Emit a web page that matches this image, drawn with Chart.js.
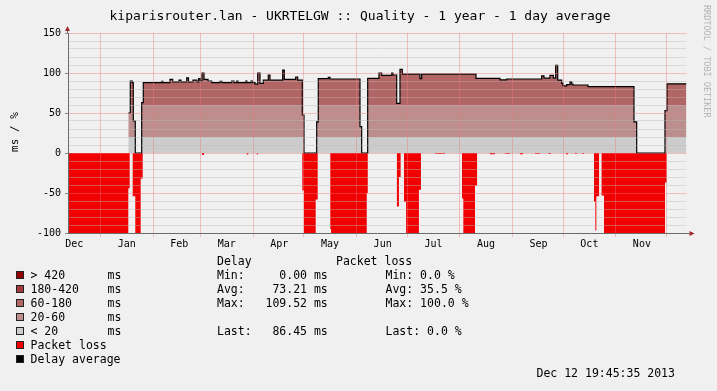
<!DOCTYPE html>
<html>
<head>
<meta charset="utf-8">
<title>kiparisrouter.lan - UKRTELGW :: Quality</title>
<script src="https://cdn.jsdelivr.net/npm/chart.js"></script>
<style>
  body { margin: 0; background: #f0f0f0; font-family: "DejaVu Sans Mono", monospace; }
  #wrap { position: relative; width: 717px; height: 391px; overflow: hidden; }
  #chartQuality { position: absolute; left: 0; top: 0; }
  .t { position: absolute; white-space: pre; font-size: 11.5px; line-height: 14px; color: #000; }
  .sw { position: absolute; width: 6px; height: 6px; border: 1px solid #222; }
</style>
</head>
<body>
<div id="wrap">
  <canvas id="chartQuality" width="717" height="391"></canvas>
  <div class="t" style="left:0;top:7px;width:720px;text-align:center;font-size:13px;line-height:18px;">kiparisrouter.lan - UKRTELGW :: Quality - 1 year - 1 day average</div>
  <div class="t" style="left:15px;top:132px;font-size:11px;transform:translate(-50%,-50%) rotate(-90deg);">ms / %</div>
  <div class="t" style="left:702px;top:5px;font-size:8.5px;line-height:9px;color:#b4b4b4;writing-mode:vertical-rl;">RRDTOOL / TOBI OETIKER</div>
  <div id="legend"></div>
  <div class="t" style="left:217px;top:254px;">Delay</div>
  <div class="t" style="left:336px;top:254px;">Packet loss</div>
  <div class="t" style="left:217px;top:268px;">Min:     0.00 ms</div>
  <div class="t" style="left:385.5px;top:268px;">Min: 0.0 %</div>
  <div class="t" style="left:217px;top:282px;">Avg:    73.21 ms</div>
  <div class="t" style="left:385.5px;top:282px;">Avg: 35.5 %</div>
  <div class="t" style="left:217px;top:296px;">Max:   109.52 ms</div>
  <div class="t" style="left:385.5px;top:296px;">Max: 100.0 %</div>
  <div class="t" style="left:217px;top:324px;">Last:   86.45 ms</div>
  <div class="t" style="left:385.5px;top:324px;">Last: 0.0 %</div>
  <div class="t" style="left:536.5px;top:366px;">Dec 12 19:45:35 2013</div>
</div>
<script>
// ---- x axis: days since Dec 12 2012 19:45 ----
const monthLabels = ['Dec', 'Jan', 'Feb', 'Mar', 'Apr', 'May', 'Jun', 'Jul', 'Aug', 'Sep', 'Oct', 'Nov'];
const monthLabelDays = [3.68, 34.68, 65.68, 93.68, 124.68, 154.68, 185.68, 215.68, 246.68, 277.68, 307.68, 338.68];
const monthStartDays = [19.18, 50.18, 78.18, 109.18, 139.18, 170.18, 200.18, 231.18, 262.18, 292.18, 323.18, 353.18];

// ---- delay average (ms) ----
const delayDays = [35.58, 36.76, 37.94, 38.53, 39.71, 43.49, 44.44, 55.29, 56.06, 60.19, 61.78, 65.50, 66.68,
  70.05, 71.11, 73.76, 76.12, 77.13, 78.07, 79.08, 80.26, 82.62, 84.80, 89.70, 90.88, 96.60, 97.96, 99.55,
  100.32, 104.86, 105.63, 107.99, 108.88, 110.35, 111.95, 113.30, 115.25, 118.20, 119.20, 126.70, 127.64,
  134.37, 135.55, 138.26, 139.27, 146.76, 147.70, 153.60, 154.61, 172.31, 173.31, 176.86, 183.52, 185.12,
  191.02, 191.78, 193.97, 195.92, 197.27, 207.72, 208.72, 240.77, 254.93, 258.88, 279.54, 280.89, 284.43,
  286.38, 287.80, 288.98, 291.34, 292.11, 294.29, 296.24, 297.24, 298.01, 306.86, 334.00, 335.60, 352.30,
  353.48, 364.10, 365];
const delayMs = [50, 90, 88, 40, 0, 63, 88, 89.5, 88, 92, 89, 91, 89,
  94, 89, 91, 89, 93, 90, 100, 92, 90, 88, 89.5, 88, 90, 88, 90,
  88, 90, 88, 90, 88, 86, 100, 87, 91, 97.5, 91, 103.7, 92,
  95, 91, 47.5, 0, 39, 93, 94.5, 92.5, 33, 0, 93.3, 100, 97,
  100, 97.5, 62, 104.6, 98.5, 93, 98.5, 93.3, 91.5, 92.5, 96.5, 93.5, 97,
  93.5, 109.5, 91, 87, 84, 85.5, 89, 86, 85, 83, 39, 0, 53,
  86.5, 86.45, 86.45];

// ---- packet loss (%) ----
const lossDays = [0, 35.58, 36.40, 38.18, 39.71, 42.90, 44.08, 79.08, 80.26, 105.5, 106.4, 111.4, 112.0,
  138.26, 139.27, 146.17, 147.35, 154.8, 155.2, 176.3, 176.9, 194.1, 195.3, 196.3, 198.3, 199.5, 207.1,
  208.3, 216.6, 222.5, 232.5, 233.3, 240.2, 241.4, 249.0, 252.0, 257.9, 260.8, 266.7, 268.5, 275.6,
  278.5, 283.3, 285.0, 293.9, 295.1, 299.2, 300.4, 303.3, 304.5, 310.4, 311.2, 311.8, 313.4, 314.9,
  316.3, 352.3, 353.3, 365];
const lossPct = [100, 44, 0, 54, 100, 32, 0, 2.5, 0, 2, 0, 2, 0,
  47, 100, 58, 0, 95, 100, 50, 0, 67, 30, 0, 61, 100, 46,
  0, 1, 0, 57, 100, 41, 0, 1.5, 0, 1, 0, 1.5, 0, 1,
  0, 1, 0, 1.5, 0, 1, 0, 1, 0, 61, 97, 54, 0, 53,
  100, 37, 0, 0];

// ---- delay bands (legend) ----
const bandLimits = [20, 60, 180, 420];
const bandNames = ['< 20', '20-60', '60-180', '180-420', '> 420'];
const bandColors = ['#cccccc', '#bd8e8e', '#b26565', '#a33b3b', '#900000'];
const lossColor = '#f00000';

const majorGrid = 'rgba(235, 120, 120, 0.42)';
const minorGrid = 'rgba(185, 185, 185, 0.42)';
const monoFont = { family: 'DejaVu Sans Mono', size: 10 };

// legend block
const leg = document.getElementById('legend');
const rows = bandNames.map((n, i) => ({ name: n, unit: 'ms', color: bandColors[i] })).reverse();
rows.push({ name: 'Packet loss', unit: '', color: lossColor });
rows.push({ name: 'Delay average', unit: '', color: '#000000' });
rows.forEach((r, i) => {
  const top = 268 + i * 14;
  leg.insertAdjacentHTML('beforeend',
    '<div class="sw" style="left:16px;top:' + (top + 3) + 'px;background:' + r.color + '"></div>' +
    '<div class="t" style="left:30.5px;top:' + top + 'px;">' + r.name.replace('<', '&lt;').replace('>', '&gt;') + '</div>' +
    (r.unit ? '<div class="t" style="left:107.5px;top:' + top + 'px;">' + r.unit + '</div>' : ''));
});

// gradient fill: colour of the area depends on the delay band
function delayFill(context) {
  const chart = context.chart;
  if (!chart.chartArea) return bandColors[0];
  const y = chart.scales.y;
  const top = bandLimits[bandLimits.length - 1];
  const g = chart.ctx.createLinearGradient(0, y.getPixelForValue(0), 0, y.getPixelForValue(top));
  let prev = 0;
  bandLimits.forEach((lim, i) => {
    g.addColorStop(prev / top, bandColors[i]);
    g.addColorStop(lim / top, bandColors[i]);
    prev = lim;
  });
  return g;
}

// axis arrows like rrdtool
const arrows = {
  id: 'arrows',
  afterDraw(chart) {
    const c = chart.ctx, a = chart.chartArea;
    c.save();
    c.strokeStyle = '#6b6b6b';
    c.lineWidth = 1;
    c.beginPath();
    c.moveTo(a.left - 0.5, a.top); c.lineTo(a.left - 0.5, a.top - 3);
    c.moveTo(a.right, a.bottom + 0.5); c.lineTo(a.right + 3, a.bottom + 0.5);
    c.stroke();
    c.fillStyle = '#a02828';
    c.beginPath();
    c.moveTo(a.left - 3, a.top - 2); c.lineTo(a.left + 2, a.top - 2); c.lineTo(a.left - 0.5, a.top - 7);
    c.fill();
    c.beginPath();
    c.moveTo(a.right + 3, a.bottom - 2); c.lineTo(a.right + 3, a.bottom + 3); c.lineTo(a.right + 8, a.bottom + 0.5);
    c.fill();
    c.restore();
  }
};

const ctx = document.getElementById('chartQuality');

new Chart(ctx, {
  type: 'line',
  data: {
    datasets: [{
      label: 'Packet loss',
      data: lossDays.map((d, i) => ({ x: d, y: -lossPct[i] })),
      stepped: true,
      fill: 'origin',
      backgroundColor: lossColor,
      borderColor: 'rgba(0,0,0,0)',
      borderWidth: 0,
      pointRadius: 0,
      order: 2
    }, {
      label: 'Delay average',
      data: delayDays.map((d, i) => ({ x: d, y: delayMs[i] })),
      stepped: true,
      fill: 'origin',
      backgroundColor: delayFill,
      borderColor: '#000000',
      borderWidth: 1.2,
      pointRadius: 0,
      order: 1
    }]
  },
  options: {
    responsive: false,
    animation: false,
    events: [],
    layout: { padding: { left: 0, top: 33, right: 30.5, bottom: 138 } },
    plugins: { legend: { display: false }, tooltip: { enabled: false } },
    scales: {
      x: {
        type: 'linear', min: 0, max: 365, position: 'bottom', weight: 0,
        afterBuildTicks: s => { s.ticks = monthStartDays.map(v => ({ value: v })); },
        afterFit: s => { s.height = 4; },
        ticks: { display: false },
        grid: { color: majorGrid, tickLength: 4, z: 1 },
        border: { color: '#6b6b6b', z: 2 }
      },
      x2: {
        type: 'linear', min: 0, max: 365, position: 'bottom', weight: 1,
        afterBuildTicks: s => { s.ticks = monthLabelDays.map(v => ({ value: v })); },
        afterFit: s => { s.height = 16; },
        ticks: {
          autoSkip: false, maxRotation: 0, padding: 1, color: '#000', font: monoFont,
          callback: (v, i) => monthLabels[i]
        },
        grid: { display: false, drawTicks: false },
        border: { display: false }
      },
      y: {
        min: -100, max: 150,
        afterFit: s => { s.width = 68; },
        ticks: {
          stepSize: 10, autoSkip: false, padding: 4, color: '#000', font: monoFont,
          callback: v => (v % 50 === 0 ? v : '')
        },
        grid: {
          z: 1, tickLength: 3,
          color: c => (c.tick.value % 50 === 0 ? majorGrid : minorGrid),
          tickColor: c => (c.tick.value % 50 === 0 ? '#8a8a8a' : 'rgba(0,0,0,0)')
        },
        border: { color: '#6b6b6b', z: 2 }
      }
    }
  },
  plugins: [arrows]
});
</script>
</body>
</html>
